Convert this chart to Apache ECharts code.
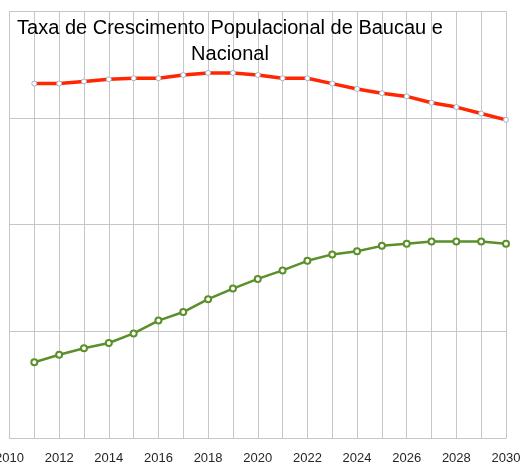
<!DOCTYPE html>
<html>
<head>
<meta charset="utf-8">
<script src="https://cdn.jsdelivr.net/npm/echarts@6/dist/echarts.min.js"></script>
<style>
  html, body { margin: 0; padding: 0; background: #fff; }
  #chart { width: 531px; height: 465px; }
</style>
</head>
<body>
<div id="chart"></div>
<script>
// anos e taxas
const years = [2011, 2012, 2013, 2014, 2015, 2016, 2017, 2018, 2019, 2020,
  2021, 2022, 2023, 2024, 2025, 2026, 2027, 2028, 2029, 2030]
const baucau = [3.32, 3.32, 3.34, 3.36, 3.37, 3.37, 3.40, 3.42, 3.42, 3.40,
  3.37, 3.37, 3.32, 3.27, 3.23, 3.20, 3.14, 3.10, 3.04, 2.98]
const nacional = [0.71, 0.78, 0.84, 0.89, 0.98, 1.10, 1.18, 1.30, 1.40, 1.49,
  1.57, 1.66, 1.72, 1.75, 1.80, 1.82, 1.84, 1.84, 1.84, 1.82]
const titleText = 'Taxa de Crescimento Populacional de Baucau e\nNacional'

const chart = echarts.init(document.getElementById('chart'))

const gridColor = '#c6c6c6'

chart.setOption({
  animation: false,
  title: {
    text: titleText,
    left: 225,
    top: 10,
    textAlign: 'center',
    textStyle: {
      fontFamily: 'Liberation Sans',
      fontWeight: 'normal',
      fontSize: 20,
      color: '#000',
      lineHeight: 26
    }
  },
  grid: {
    left: 9.5,
    right: 25,
    top: 11,
    bottom: 27,
    containLabel: false,
    outerBoundsMode: 'none'
  },
  xAxis: {
    type: 'value',
    min: 2010,
    max: 2030,
    interval: 1,
    axisLine: { show: true, lineStyle: { color: gridColor, width: 1 } },
    axisTick: { show: false },
    axisLabel: {
      margin: 14,
      fontFamily: 'Liberation Sans',
      fontSize: 13,
      color: '#262626',
      formatter: v => (v % 2 === 0 ? String(v) : '')
    },
    splitLine: { show: true, lineStyle: { color: gridColor, width: 1 } }
  },
  yAxis: {
    type: 'value',
    min: 0,
    max: 4,
    interval: 1,
    axisLine: { show: false },
    axisTick: { show: false },
    axisLabel: { show: false },
    splitLine: { show: true, lineStyle: { color: gridColor, width: 1 } }
  },
  series: [
    {
      name: 'Baucau',
      type: 'line',
      data: years.map((y, i) => [y, baucau[i]]),
      symbol: 'circle',
      symbolSize: 5,
      itemStyle: { color: '#fff', borderColor: '#9fb4c8', borderWidth: 1 },
      lineStyle: { color: '#ff2600', width: 3.5 }
    },
    {
      name: 'Nacional',
      type: 'line',
      data: years.map((y, i) => [y, nacional[i]]),
      symbol: 'circle',
      symbolSize: 6,
      itemStyle: { color: '#fff', borderColor: '#5a8f29', borderWidth: 2 },
      lineStyle: { color: '#5a8f29', width: 2.5 }
    }
  ]
})
</script>
</body>
</html>
